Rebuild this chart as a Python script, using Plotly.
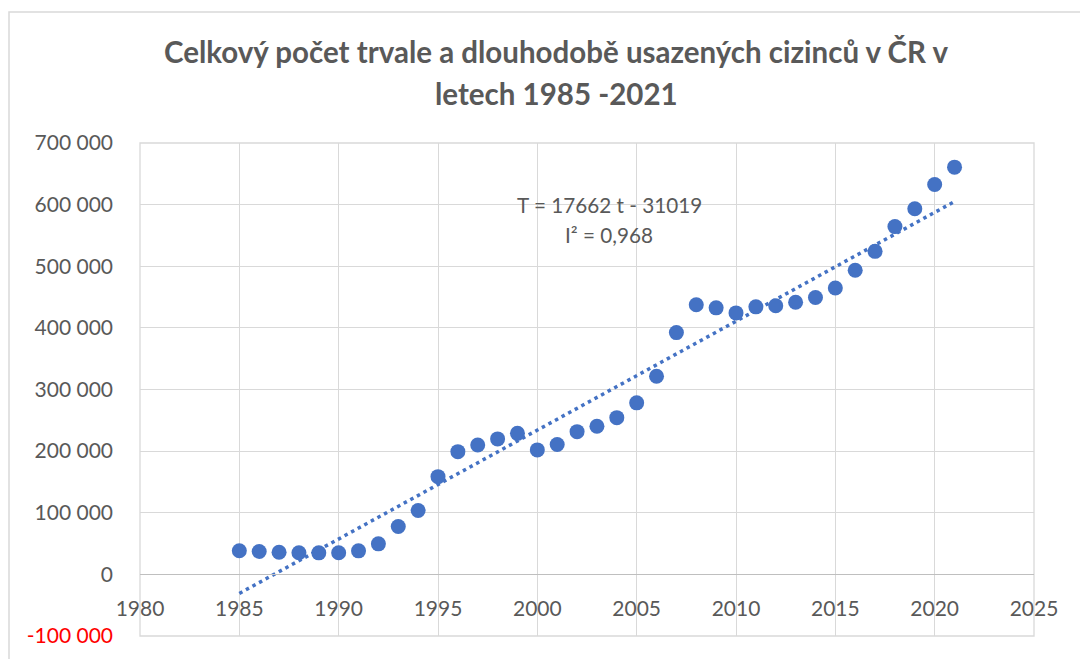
import numpy as np
import plotly.graph_objects as go

# ---- data ----
years = list(range(1985, 2022))
foreigners = [38217, 37179, 35812, 35186, 34910, 35198, 38190, 49552, 77668, 103652,
              158555, 199152, 209826, 219832, 228862, 201951, 210794, 231608, 240421, 254294,
              278312, 321456, 392315, 437565, 432503, 424291, 434153, 435946, 441536, 449367,
              464670, 493441, 524142, 564345, 593400, 632600, 660800]

y_tick_vals = [-100000, 0, 100000, 200000, 300000, 400000, 500000, 600000, 700000]
y_tick_text = ['<span style="color:#ff0000">-100 000</span>', "0", "100 000", "200 000",
               "300 000", "400 000", "500 000", "600 000", "700 000"]
x_tick_vals = [1980, 1985, 1990, 1995, 2000, 2005, 2010, 2015, 2020, 2025]

title_lines = ["Celkový počet trvale a dlouhodobě usazených cizinců v ČR v",
               "letech 1985 -2021"]
equation_lines = ["T = 17662 t - 31019", "I² = 0,968"]

# linear trend (least squares) drawn between first and last year
coef = np.polyfit(years, foreigners, 1)
trend_x = [years[0], years[-1]]
trend_y = list(np.polyval(coef, trend_x))

BLUE = "#4472C4"
GRAY_TXT = "#595959"
GRID = "#d9d9d9"
FONT = "Lato"

fig = go.Figure()
fig.add_trace(go.Scatter(
    x=trend_x, y=trend_y, mode="lines",
    line=dict(color=BLUE, width=3.5, dash="3.5px,4px"),
    showlegend=False, hoverinfo="skip"))
fig.add_trace(go.Scatter(
    x=years, y=foreigners, mode="markers",
    marker=dict(color=BLUE, size=15, line=dict(width=0)),
    showlegend=False))

W, H = 1080, 659
L, R, T, B = 140, 46, 143, 23
ph = H - T - B  # plot height
pw = W - L - R


def px_y(py):
    return (H - B - py) / ph


def px_x(px):
    return (px - L) / pw


annotations = [
    dict(text="<b>" + title_lines[0] + "</b>", x=px_x(556.5), y=px_y(52),
         xref="paper", yref="paper", xanchor="center", yanchor="middle",
         showarrow=False, font=dict(family=FONT, size=29.5, color=GRAY_TXT)),
    dict(text="<b>" + title_lines[1] + "</b>", x=px_x(556.5), y=px_y(94),
         xref="paper", yref="paper", xanchor="center", yanchor="middle",
         showarrow=False, font=dict(family=FONT, size=29.5, color=GRAY_TXT)),
    dict(text=equation_lines[0], x=px_x(609), y=px_y(205),
         xref="paper", yref="paper", xanchor="center", yanchor="middle",
         showarrow=False, font=dict(family=FONT, size=20.7, color=GRAY_TXT)),
    dict(text=equation_lines[1], x=px_x(609), y=px_y(235),
         xref="paper", yref="paper", xanchor="center", yanchor="middle",
         showarrow=False, font=dict(family=FONT, size=20.7, color=GRAY_TXT)),
]

shapes = [
    # plot area border
    dict(type="rect", xref="paper", yref="paper", x0=0, x1=1, y0=0, y1=1,
         line=dict(color=GRID, width=1.3), layer="below"),
    # chart area border
    dict(type="rect", xref="paper", yref="paper",
         x0=px_x(9), x1=px_x(1090), y0=px_y(670), y1=px_y(12),
         line=dict(color=GRID, width=1.5), layer="below"),
]

fig.update_layout(
    width=W, height=H,
    margin=dict(l=L, r=R, t=T, b=B),
    paper_bgcolor="white", plot_bgcolor="white",
    annotations=annotations, shapes=shapes,
    xaxis=dict(range=[1980, 2025], tickmode="array", tickvals=x_tick_vals,
               showgrid=True, gridcolor=GRID, gridwidth=1.3, zeroline=False,
               anchor="free", position=px_y(574),
               showline=True, linecolor="#bfbfbf", linewidth=1.3,
               ticks="", ticklabelstandoff=16,
               tickfont=dict(family=FONT, size=21, color=GRAY_TXT)),
    yaxis=dict(range=[-100000, 700000], tickmode="array", tickvals=y_tick_vals,
               ticktext=y_tick_text, showgrid=True, gridcolor=GRID, gridwidth=1.3,
               zeroline=False, showline=False, ticks="", ticklabelstandoff=26,
               tickfont=dict(family=FONT, size=21, color=GRAY_TXT)),
)

fig.write_html("out.html",
               config={"displayModeBar": False},
               post_script="document.body.style.margin='0';document.body.style.overflow='hidden';")
